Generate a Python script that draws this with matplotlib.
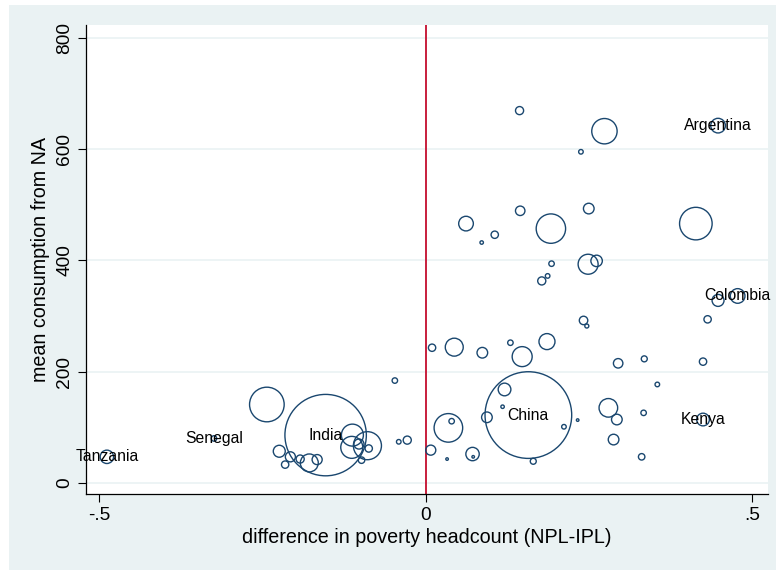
import matplotlib
matplotlib.use("Agg")
import matplotlib.pyplot as plt
import numpy as np

plt.rcParams["font.family"] = ["Liberation Sans", "DejaVu Sans"]

# difference in poverty headcount, mean consumption, population weight (millions)
diff = [-0.488, -0.324, -0.243, -0.153, -0.112, -0.113, -0.089, -0.087, -0.102, -0.098,
        -0.224, -0.207, -0.215, -0.192, -0.178, -0.166, -0.047, -0.041, -0.028,
        0.008, 0.033, 0.072, 0.073, 0.035, 0.040, 0.094, 0.118, 0.121, 0.1575,
        0.165, 0.212, 0.233, 0.280, 0.293, 0.334, 0.425, 0.288, 0.331,
        0.010, 0.044, 0.087, 0.130, 0.186, 0.148, 0.295, 0.335, 0.425, 0.355,
        0.242, 0.247, 0.432, 0.478, 0.448, 0.178, 0.187, 0.193, 0.249, 0.262,
        0.062, 0.106, 0.086, 0.192, 0.414, 0.145, 0.250, 0.238, 0.274, 0.448, 0.144]
cons = [47, 80, 141, 86, 86, 64, 67, 62, 70, 41,
        57, 47, 33, 43, 36, 42, 184, 74, 77,
        59, 43, 52, 47, 99, 111, 118, 137, 168, 122,
        39, 101, 113, 135, 114, 126, 114, 78, 47,
        243, 244, 234, 252, 254, 227, 215, 223, 218, 177,
        292, 282, 294, 336, 328, 363, 372, 394, 393, 399,
        466, 446, 432, 457, 466, 489, 493, 595, 632, 642, 669]
pop = [30, 5, 201, 1112, 81, 81, 132, 9, 17, 7,
       24, 17, 9, 11, 54, 17, 5, 3.5, 11,
       17, 1.1, 30, 1.1, 137, 5, 19, 2, 27, 1260,
       6, 3.5, 1.1, 58, 19, 5, 27, 19, 7,
       9, 54, 19, 5, 43, 67, 15, 6, 9, 3.5,
       12, 2.7, 9, 36, 24, 11, 3.5, 5, 67, 22,
       36, 9, 2, 145, 178, 15, 19, 3.5, 108, 36, 11]
names = [""] * len(diff)
names[0] = "Tanzania"
names[1] = "Senegal"
names[3] = "India"
names[28] = "China"
names[35] = "Kenya"
names[51] = "Colombia"
names[67] = "Argentina"

panel = "#eaf2f3"
navy = "#1a476f"

fig = plt.figure(figsize=(7.76, 5.70), dpi=100, facecolor="white")
fig.patches.append(plt.Rectangle((9 / 776, 0), 1, 1 - 5 / 570, transform=fig.transFigure,
                                 facecolor=panel, edgecolor="none", zorder=-1))
ax = fig.add_axes([86 / 776, 76 / 570, 682 / 776, 469 / 570])
ax.set_facecolor("white")

ax.scatter(diff, cons, s=np.array(pop) * 3.09, facecolors="none",
           edgecolors=navy, linewidths=1.0, zorder=3)
for x, y, n in zip(diff, cons, names):
    if n:
        ax.text(x, y, n, ha="center", va="center", fontsize=11.3, color="black",
                zorder=4, clip_on=False)

ax.axvline(0, color="#c81e3c", lw=1.4, zorder=2)

ax.set_xlim(-0.520, 0.5245)
ax.set_ylim(-19.8, 822.8)
ax.set_xticks([-0.5, 0, 0.5])
ax.set_xticklabels(["-.5", "0", ".5"])
ax.set_yticks([0, 200, 400, 600, 800])
ax.set_yticklabels(["0", "200", "400", "600", "800"], rotation=90, va="center")
ax.tick_params(direction="out", length=6, width=0.8, labelsize=13.8, pad=3, colors="black")
ax.yaxis.grid(True, color=panel, lw=1.2)
ax.set_axisbelow(True)
for side in ["top", "right"]:
    ax.spines[side].set_visible(False)
for side in ["left", "bottom"]:
    ax.spines[side].set_linewidth(0.9)

ax.set_xlabel("difference in poverty headcount (NPL-IPL)", fontsize=14.2, labelpad=3)
ax.set_ylabel("mean consumption from NA", fontsize=14.2, labelpad=5)

fig.savefig("out.png", dpi=100, facecolor=fig.get_facecolor())
